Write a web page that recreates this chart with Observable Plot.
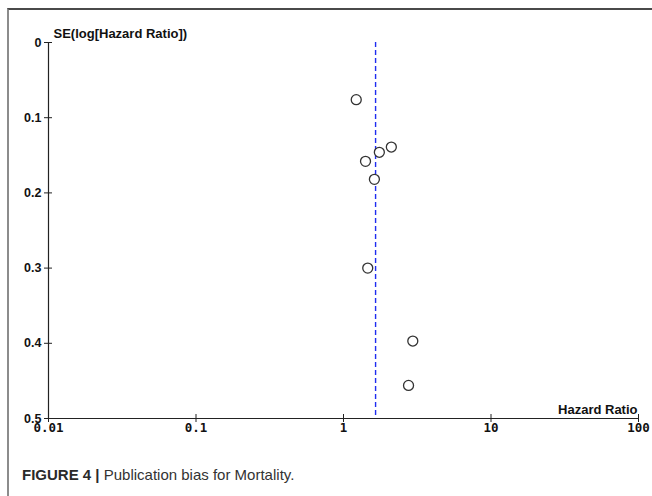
<!DOCTYPE html>
<html>
<head>
<meta charset="utf-8">
<script src="https://cdn.jsdelivr.net/npm/d3@7"></script>
<script src="https://cdn.jsdelivr.net/npm/@observablehq/plot@0.6"></script>
<style>
  html, body { margin: 0; padding: 0; background: #fff; }
  #page { position: relative; width: 652px; height: 496px; overflow: hidden; background: #fff; }
  #box { position: absolute; left: 7px; top: 8px; right: -4px; bottom: -4px;
         border-top: 2px solid #4a4a4a; border-left: 2px solid #8c8c8c; }
  #chart { position: absolute; left: 0; top: 0; }
  #caption { position: absolute; left: 22px; top: 466px; font-family: "Liberation Sans", Arial, sans-serif;
             font-size: 15px; color: #333; white-space: nowrap; }
  #caption b { font-weight: bold; color: #2a2a2a; }
</style>
</head>
<body>
<div id="page">
  <div id="box"></div>
  <div id="chart"></div>
  <div id="caption"><b>FIGURE 4 |</b> Publication bias for Mortality.</div>
</div>
<script>
// Study estimates
const hazardRatio = [1.22, 2.11, 1.75, 1.41, 1.62, 1.46, 2.95, 2.76];
const seLogHR     = [0.076, 0.139, 0.146, 0.158, 0.182, 0.300, 0.397, 0.456];
const pooledHR = [1.65];
const xTicks = [0.01, 0.1, 1, 10, 100];
const yTicks = [0, 0.1, 0.2, 0.3, 0.4, 0.5];
const xLabel = "Hazard Ratio";
const yLabel = "SE(log[Hazard Ratio])";

const studies = hazardRatio.map((hr, i) => ({hr, se: seLogHR[i]}));

const chart = Plot.plot({
  width: 652,
  height: 445,
  marginTop: 42,
  marginLeft: 48,
  marginRight: 14,
  marginBottom: 27,
  style: {background: "transparent", color: "#111"},
  x: {type: "log", domain: [0.01, 100]},
  y: {domain: [0, 0.5], reverse: true},
  marks: [
    // axis lines
    Plot.ruleY([0.5], {stroke: "#222", strokeWidth: 1.2}),
    Plot.ruleX([0.01], {y1: 0, y2: 0.5, stroke: "#222", strokeWidth: 1.2}),
    // crossing tick marks
    Plot.ruleX(xTicks, {x: d => d, y1: 0.5, y2: 0.5, insetTop: -4, insetBottom: -4, stroke: "#222", strokeWidth: 1}),
    Plot.ruleY(yTicks, {y: d => d, x1: 0.01, x2: 0.01, insetLeft: -4, insetRight: -4, stroke: "#222", strokeWidth: 1}),
    // tick labels
    Plot.axisX({ticks: xTicks, tickSize: 0, tickPadding: 5, tickFormat: d => String(d),
      fontFamily: "DejaVu Sans Mono", fontWeight: "bold", fontSize: 12.5, label: null}),
    Plot.axisY({ticks: yTicks, tickSize: 0, tickPadding: 7, tickFormat: d => String(d),
      fontFamily: "Liberation Sans", fontWeight: "bold", fontSize: 12.5, label: null}),
    // axis titles
    Plot.text([yLabel], {frameAnchor: "top-left", dx: 5, dy: -5, lineAnchor: "bottom", textAnchor: "start",
      text: d => d, fontFamily: "Liberation Sans", fontWeight: "bold", fontSize: 13, fill: "#111"}),
    Plot.text([xLabel], {frameAnchor: "bottom-right", dx: -1, dy: -5, lineAnchor: "bottom", textAnchor: "end",
      text: d => d, fontFamily: "Liberation Sans", fontWeight: "bold", fontSize: 13, fill: "#111"}),
    // pooled estimate
    Plot.ruleX(pooledHR, {x: d => d, y1: 0, y2: 0.5, stroke: "#1f2cf0", strokeWidth: 1.4, strokeDasharray: "5,3"}),
    // studies
    Plot.dot(studies, {x: "hr", y: "se", r: 5, stroke: "#333", strokeWidth: 1.3, fill: "white"})
  ]
});
document.getElementById("chart").appendChild(chart);
</script>
</body>
</html>
